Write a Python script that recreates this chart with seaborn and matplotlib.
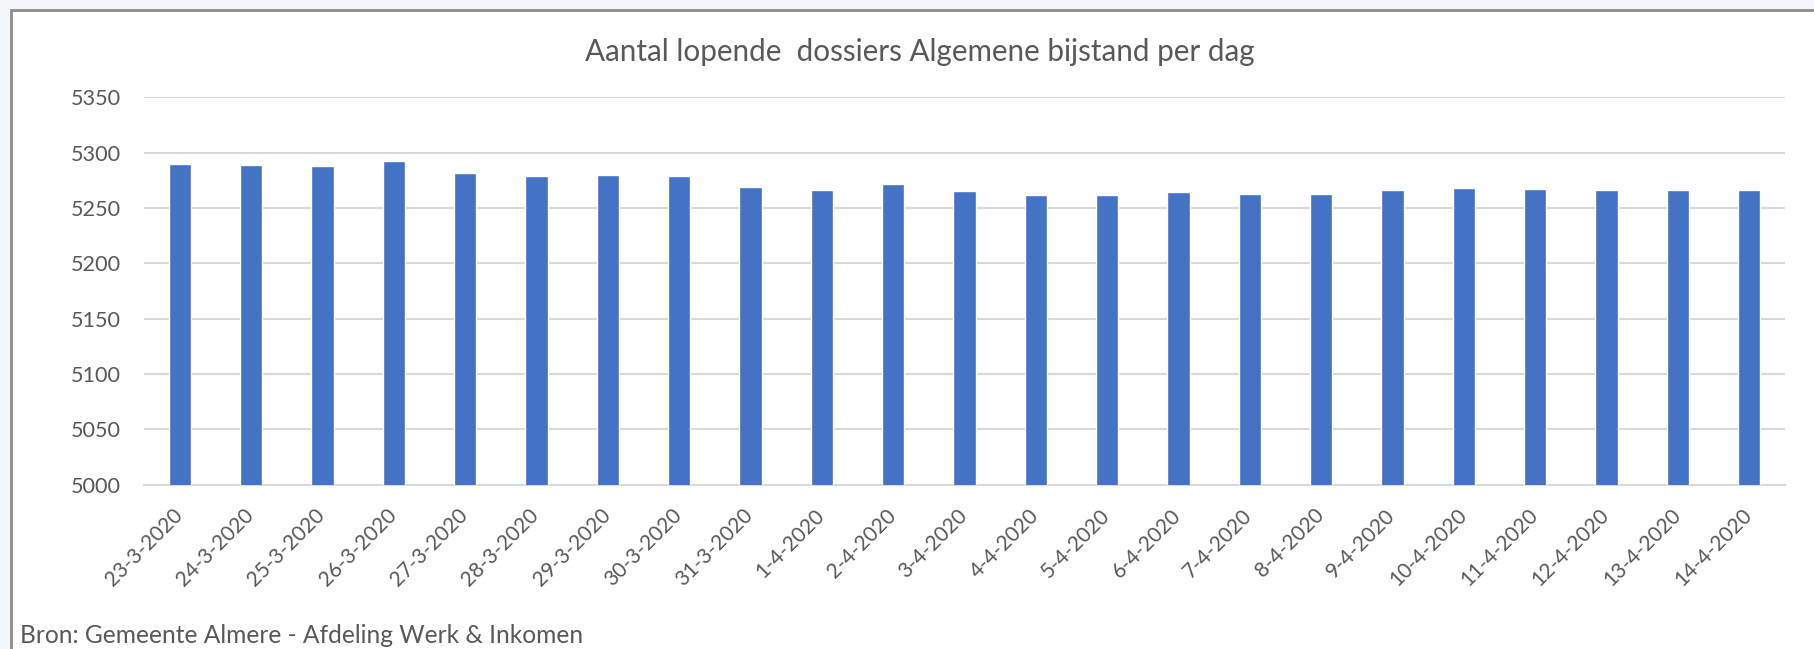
import matplotlib
matplotlib.use("Agg")
import matplotlib.pyplot as plt
import matplotlib.transforms as mtransforms
import seaborn as sns
import pandas as pd
from matplotlib.patches import Rectangle

# data
dates = ["23-3-2020", "24-3-2020", "25-3-2020", "26-3-2020", "27-3-2020",
         "28-3-2020", "29-3-2020", "30-3-2020", "31-3-2020", "1-4-2020",
         "2-4-2020", "3-4-2020", "4-4-2020", "5-4-2020", "6-4-2020",
         "7-4-2020", "8-4-2020", "9-4-2020", "10-4-2020", "11-4-2020",
         "12-4-2020", "13-4-2020", "14-4-2020"]
dossiers = [5290, 5289, 5288, 5292, 5282, 5279, 5280, 5279, 5269, 5266,
            5272, 5265, 5262, 5262, 5264, 5263, 5263, 5266, 5268, 5267,
            5266, 5266, 5266]
y_ticks = [5000, 5050, 5100, 5150, 5200, 5250, 5300, 5350]

title = "Aantal lopende  dossiers Algemene bijstand per dag"
source = "Bron: Gemeente Almere - Afdeling Werk & Inkomen"

sns.set_style("white")
plt.rcParams["font.family"] = ["Lato", "DejaVu Sans"]
text_color = "#595959"
grid_color = "#d9d9d9"

df = pd.DataFrame({"datum": dates, "aantal": dossiers})

W, H = 1815, 649
fig = plt.figure(figsize=(W / 100, H / 100), dpi=100)
fig.patch.set_facecolor("#f4f8fc")

# white chart area with grey frame, behind everything
frame = Rectangle((11 / W, -0.01), 1.0, 1 - 10 / H + 0.01, transform=fig.transFigure,
                  facecolor="white", edgecolor="#8c8c8c", linewidth=2, zorder=-5)
fig.patches.append(frame)

ax = fig.add_axes([144 / W, 1 - 484.5 / H, (1785 - 144) / W, (484.5 - 97.3) / H])
ax.set_zorder(2)
ax.patch.set_alpha(0)

sns.barplot(data=df, x="datum", y="aantal", color="#4472C4", width=0.313,
            saturation=1, ax=ax, zorder=3)

ax.set_ylim(5000, 5350)
ax.set_yticks(y_ticks)
ax.set_xlim(-0.5, len(dates) - 0.5)
ax.set_axisbelow(True)
ax.yaxis.grid(True, color=grid_color, linewidth=1.5)
ax.set_xlabel("")
ax.set_ylabel("")

for side in ["top", "right", "left"]:
    ax.spines[side].set_visible(False)
ax.spines["bottom"].set_color(grid_color)
ax.spines["bottom"].set_linewidth(1.5)

# tick marks between categories like Excel
ax.set_xticks([i - 0.5 for i in range(len(dates) + 1)], minor=True)
ax.tick_params(axis="x", which="minor", length=8, color=grid_color, width=1.5)
ax.tick_params(axis="x", which="major", length=0, pad=7, labelrotation=45,
               labelsize=16, labelcolor=text_color)
ax.tick_params(axis="y", length=0, pad=16.5, labelsize=16, labelcolor=text_color)
plt.setp(ax.get_xticklabels(), ha="right", rotation_mode="anchor")

t_title = fig.text(919.6 / W, 1 - 61 / H, title, ha="center", va="baseline",
                   fontsize=20, color=text_color)
t_source = fig.text(20 / W, 1 - 643 / H, source, ha="left", va="baseline",
                    fontsize=17, color=text_color)

# size the texts so their widths match the original (Calibri is narrower than Lato)
fig.canvas.draw()
r = fig.canvas.get_renderer()
for t, target in [(t_title, 670), (t_source, 563)]:
    t.set_fontsize(t.get_fontsize() * target / t.get_window_extent(r).width)
ylab = ax.get_yticklabels()[-1]
ax.tick_params(axis="y", labelsize=16 * 50 / ylab.get_window_extent(r).width)
xlab = ax.get_xticklabels()[0]
ax.tick_params(axis="x", which="major",
               labelsize=16 * 84 / xlab.get_window_extent(r).width)

# move the rotated date labels so they end just right of the bar centre
fig.canvas.draw()
bb = ax.get_xticklabels()[0].get_window_extent(r)
x0 = ax.transData.transform((0, 5000))[0]
dx = (x0 + 6.5) - bb.x1
dy = (H - 505) - bb.y1
shift = mtransforms.Affine2D().translate(dx, dy)
for lbl in ax.get_xticklabels():
    lbl.set_transform(lbl.get_transform() + shift)

fig.savefig("out.png", dpi=100, facecolor=fig.get_facecolor())
